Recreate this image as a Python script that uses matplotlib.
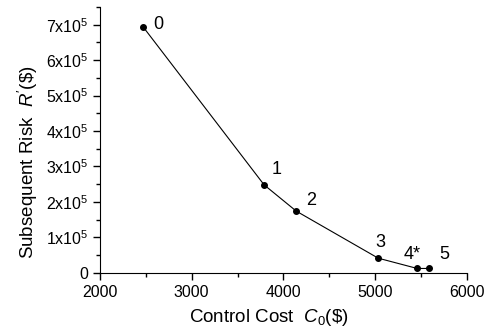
import matplotlib
matplotlib.use("Agg")
import matplotlib.pyplot as plt
from matplotlib.ticker import MultipleLocator

plt.rcParams['font.family'] = ['Liberation Sans', 'DejaVu Sans']
plt.rcParams['mathtext.fontset'] = 'custom'
plt.rcParams['mathtext.rm'] = 'Liberation Sans'
plt.rcParams['mathtext.it'] = 'Liberation Sans:italic'

cost = [2470, 3790, 4140, 5035, 5460, 5590]
risk = [6.94e5, 2.48e5, 1.74e5, 0.41e5, 0.12e5, 0.12e5]
labels = ['0', '1', '2', '3', '4*', '5']
label_offsets = [(10, 2), (8, 15), (10, 11), (2, 16), (-5, 14), (10, 14)]
ytick_vals = [0, 1e5, 2e5, 3e5, 4e5, 5e5, 6e5, 7e5]
ytick_labels = ['0'] + [r'%dx10$^{5}$' % i for i in range(1, 8)]
xtick_vals = [2000, 3000, 4000, 5000, 6000]

fig = plt.figure(figsize=(4.91, 3.34), dpi=100)
ax = fig.add_axes([0.2037, 0.1835, 0.7468, 0.7955])
ax.plot(cost, risk, '-', color='black', lw=0.8, marker='o', ms=4)
for x, y, t, (dx, dy) in zip(cost, risk, labels, label_offsets):
    ax.annotate(t, (x, y), xytext=(dx, dy), textcoords='offset pixels',
                ha='left' if dx > 5 else 'center', va='center', fontsize=13)

ax.set_xlim(2000, 6000)
ax.set_ylim(0, 7.5e5)
ax.set_xticks(xtick_vals)
ax.xaxis.set_minor_locator(MultipleLocator(500))
ax.set_yticks(ytick_vals)
ax.set_yticklabels(ytick_labels)
ax.yaxis.set_minor_locator(MultipleLocator(0.5e5))
ax.spines['top'].set_visible(False)
ax.spines['right'].set_visible(False)
ax.tick_params(which='major', direction='out', length=5, width=1, labelsize=11.5)
ax.tick_params(which='minor', direction='out', length=3, width=1)
ax.set_xlabel(r"Control Cost  $\mathit{C}_{0}$(\$)", fontsize=13.5, labelpad=2)
ax.set_ylabel(r"Subsequent Risk  $\mathit{R'}$(\$)", fontsize=13.5, labelpad=4)
ax.xaxis.set_label_coords(0.46, -0.13)
ax.yaxis.set_label_coords(-0.165, 0.415)
fig.savefig('out.png', dpi=100)
